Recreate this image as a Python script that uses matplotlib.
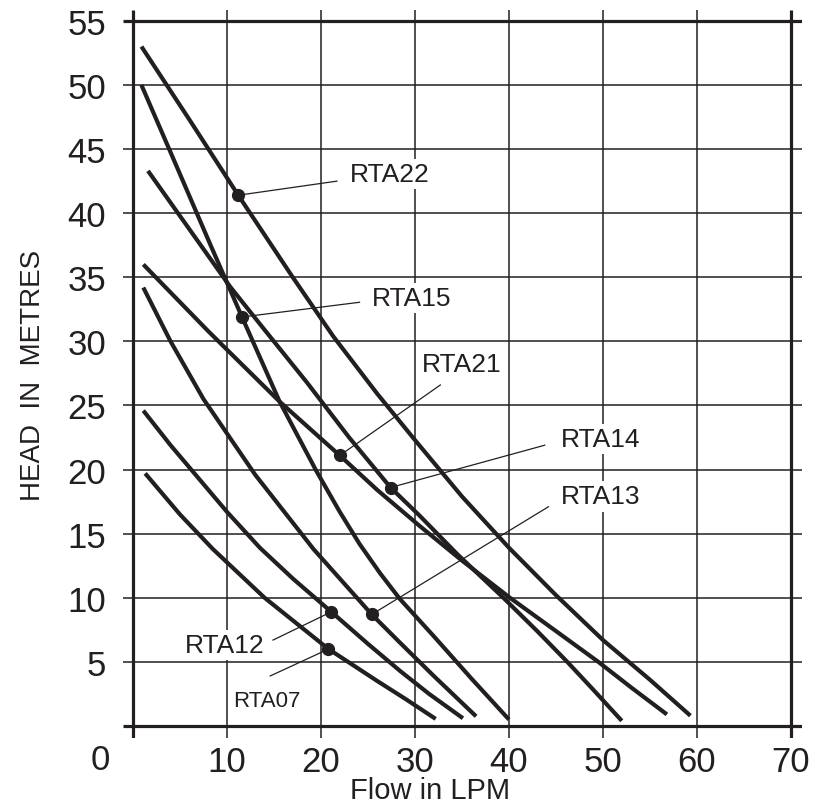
import matplotlib
matplotlib.use("Agg")
import matplotlib.pyplot as plt

plt.rcParams['font.family'] = ['Liberation Sans', 'DejaVu Sans']

# ---- data ----
rta22_x = [0.9, 6.0, 11.2, 17.0, 21.3, 26.0, 30.0, 35.0, 40.0, 45.0, 50.0, 55.0, 59.3]
rta22_y = [53.0, 47.3, 41.4, 35.0, 30.4, 25.9, 22.3, 17.9, 13.9, 10.2, 6.7, 3.6, 0.8]
rta15_x = [0.9, 4.5, 8.2, 11.6, 15.6, 19.5, 22.0, 24.1, 26.3, 28.4, 32.0, 36.0, 40.0]
rta15_y = [50.0, 43.9, 37.6, 31.9, 25.3, 19.9, 16.7, 14.2, 11.9, 9.9, 7.0, 3.7, 0.5]
rta14_x = [1.6, 4.5, 7.5, 10.3, 14.0, 18.5, 23.0, 27.4, 30.5, 34.5, 39.4, 43.0, 46.2, 49.0, 52.0]
rta14_y = [43.3, 40.3, 37.2, 34.3, 30.9, 26.8, 22.5, 18.6, 16.4, 13.4, 10.0, 7.4, 5.0, 2.8, 0.4]
rta21_x = [1.1, 8.0, 15.6, 22.0, 26.0, 30.5, 35.0, 40.1, 45.0, 49.5, 53.0, 56.8]
rta21_y = [36.0, 30.8, 25.3, 21.1, 18.4, 15.6, 12.9, 10.0, 7.4, 5.0, 3.0, 0.9]
rta13_x = [1.1, 4.0, 7.5, 13.0, 19.2, 25.4, 28.4, 32.0, 36.5]
rta13_y = [34.2, 30.0, 25.5, 19.6, 13.8, 8.7, 6.5, 3.9, 0.75]
rta12_x = [1.1, 4.0, 7.0, 10.0, 13.5, 17.0, 21.1, 25.0, 28.4, 31.5, 35.1]
rta12_y = [24.6, 21.9, 19.3, 16.7, 13.9, 11.5, 8.9, 6.4, 4.3, 2.5, 0.6]
rta07_x = [1.3, 5.0, 8.5, 14.0, 20.8, 26.0, 29.0, 32.2]
rta07_y = [19.7, 16.5, 13.8, 10.0, 6.0, 3.5, 2.1, 0.55]

curves_x = [rta22_x, rta15_x, rta14_x, rta21_x, rta13_x, rta12_x, rta07_x]
curves_y = [rta22_y, rta15_y, rta14_y, rta21_y, rta13_y, rta12_y, rta07_y]

labels = ["RTA22", "RTA15", "RTA14", "RTA21", "RTA13", "RTA12", "RTA07"]
marker_x = [11.2, 11.6, 27.4, 22.0, 25.4, 21.1, 20.8]
marker_y = [41.4, 31.9, 18.6, 21.1, 8.7, 8.9, 6.0]
label_x = [27.3, 29.6, 49.7, 35.0, 49.7, 9.8, 14.2]
label_y = [43.05, 33.4, 22.4, 28.2, 17.9, 6.3, 1.95]
leader_x = [21.7, 24.1, 43.8, 32.7, 44.2, 14.9, 14.6]
leader_y = [42.5, 33.05, 21.9, 26.6, 17.1, 6.7, 3.9]
label_size = [19, 19, 19, 19, 19, 19, 16]

xticks = [10, 20, 30, 40, 50, 60, 70]
yticks = [5, 10, 15, 20, 25, 30, 35, 40, 45, 50, 55]
x_grid = [10, 20, 30, 40, 50, 60]
y_grid = [5, 10, 15, 20, 25, 30, 35, 40, 45, 50]

# ---- figure ----
fig = plt.figure(figsize=(8.2, 8.04), dpi=100)
xmin, xmax = -1.06, 71.17
ymin, ymax = -0.94, 55.85
ax = fig.add_axes([123 / 820, 1 - 739 / 804, (802 - 123) / 820, (739 - 11) / 804])
ax.set_xlim(xmin, xmax)
ax.set_ylim(ymin, ymax)
for s in ax.spines.values():
    s.set_visible(False)

ink = '#231f20'
ax.vlines(x_grid, ymin, ymax, color=ink, lw=1.1, zorder=1)
ax.hlines(y_grid, xmin, xmax, color=ink, lw=1.1, zorder=1)
ax.vlines([0, 70], ymin, ymax, color=ink, lw=2.3, zorder=1)
ax.hlines([0, 55], xmin, xmax, color=ink, lw=2.3, zorder=1)

for cx, cy in zip(curves_x, curves_y):
    ax.plot(cx, cy, color=ink, lw=3.0, solid_capstyle='butt', solid_joinstyle='round', zorder=3)

for mx, my, lx, ly, tx, ty, lab, fs in zip(marker_x, marker_y, leader_x, leader_y,
                                            label_x, label_y, labels, label_size):
    ax.plot([mx, lx], [my, ly], color=ink, lw=0.9, zorder=3)
    ax.plot(mx, my, 'o', color=ink, ms=8.5, zorder=4)
    ax.text(tx, ty, lab, fontsize=fs, color=ink, ha='center', va='center', zorder=2,
            bbox=dict(boxstyle='square,pad=0.12', fc='white', ec='none'))

ax.set_xticks(xticks)
ax.set_xticklabels([str(v) for v in xticks])
ax.set_yticks(yticks)
ax.set_yticklabels([str(v) for v in yticks])
ax.tick_params(axis='both', length=0, labelsize=25, colors=ink)
ax.tick_params(axis='x', pad=5)
ax.tick_params(axis='y', pad=12)
ax.text(-3.5, -2.6, "0", fontsize=25, color=ink, ha='center', va='center', clip_on=False)

fig.text(430 / 820, 1 - 791 / 804, "Flow in LPM", fontsize=21, color=ink, ha='center', va='center')
fig.text(33 / 820, 1 - 375 / 804, "HEAD  IN  METRES", fontsize=20, color=ink, rotation=90,
         ha='center', va='center')

fig.savefig("out.png", dpi=100)
